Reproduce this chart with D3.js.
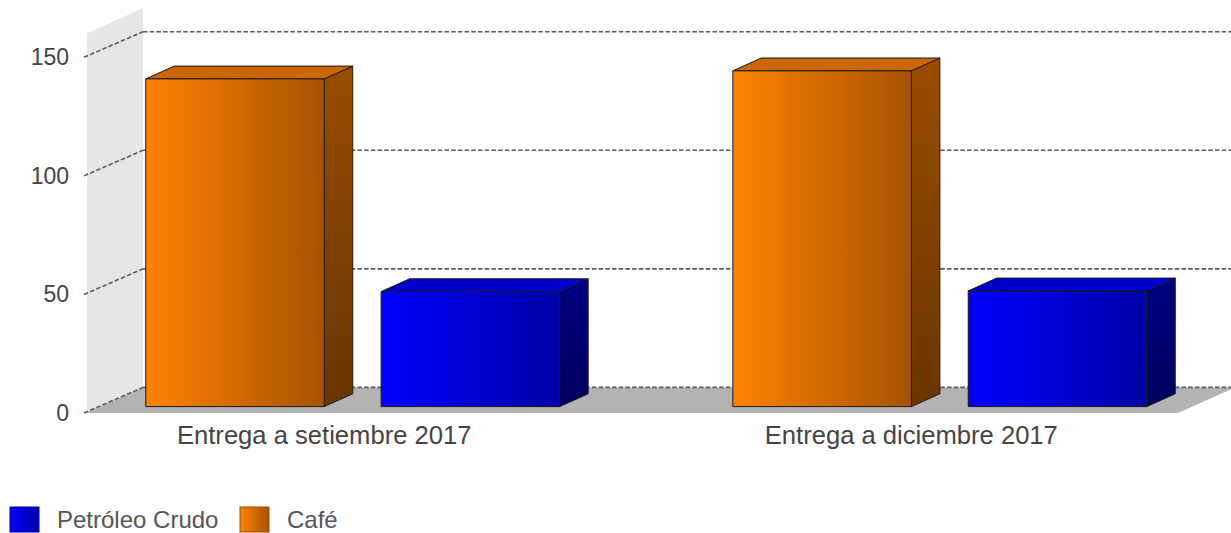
<!DOCTYPE html>
<html>
<head>
<meta charset="utf-8">
<script src="https://cdn.jsdelivr.net/npm/d3@7"></script>
<style>
  html, body { margin: 0; padding: 0; background: #fff; }
  svg { display: block; font-family: "Liberation Sans", Arial, sans-serif; }
</style>
</head>
<body>
<svg id="chart" width="1231" height="533"></svg>
<script>
// Data
const categories = ["Entrega a setiembre 2017", "Entrega a diciembre 2017"];
const seriesNames = ["Café", "Petróleo Crudo"];
const cafeValues = [138.2, 141.6];
const petroleoValues = [48.5, 48.8];
const yTicks = [0, 50, 100, 150];
const legendOrder = ["Petróleo Crudo", "Café"];

const seriesValues = { "Café": cafeValues, "Petróleo Crudo": petroleoValues };

// Layout
const W = 1231, H = 533;
const plotLeft = 86, plotRight = 1178, plotBottom = 413, plotTop = 33.6;
const depthX = 57, depthY = -25.6;          // depth of the 3D canvas
const barZ0 = 0.25, barZ1 = 0.75;           // bars sit in the middle of the depth

const palette = {
  "Café": { front: ["#ff8200", "#a65300"], top: "#cc6600", side: ["#9a4d00", "#6a3500"], border: "#9c4e00" },
  "Petróleo Crudo": { front: ["#0000ff", "#0000a6"], top: "#0000cc", side: ["#000082", "#00005e"], border: "#0000a0" }
};

const svg = d3.select("#chart");
const defs = svg.append("defs");

Object.entries(palette).forEach(([name, c], i) => {
  const gf = defs.append("linearGradient").attr("id", "front" + i).attr("x1", 0).attr("x2", 1).attr("y1", 0).attr("y2", 0);
  gf.append("stop").attr("offset", "0%").attr("stop-color", c.front[0]);
  gf.append("stop").attr("offset", "100%").attr("stop-color", c.front[1]);
  const gs = defs.append("linearGradient").attr("id", "side" + i).attr("x1", 0).attr("x2", 0).attr("y1", 0).attr("y2", 1);
  gs.append("stop").attr("offset", "0%").attr("stop-color", c.side[0]);
  gs.append("stop").attr("offset", "100%").attr("stop-color", c.side[1]);
  c.frontId = "url(#front" + i + ")";
  c.sideId = "url(#side" + i + ")";
});

// Scales
const y = d3.scaleLinear().domain([0, 160]).range([plotBottom, plotTop]);
const x0 = d3.scaleBand().domain(categories).range([plotLeft, plotRight]).paddingInner(0.295).paddingOuter(0.0775);
const x1 = d3.scaleBand().domain(seriesNames).range([0, x0.bandwidth()]).paddingInner(0.2415).paddingOuter(0);

const pt = (px, py) => px + "," + py;

// Back wall
const yMax = y.domain()[1];
svg.append("polygon")
  .attr("points", [
    pt(plotLeft + 1, y(0)), pt(plotLeft + 1, y(yMax)),
    pt(plotLeft + depthX, y(yMax) + depthY), pt(plotLeft + depthX, y(0) + depthY)
  ].join(" "))
  .attr("fill", "#e6e6e6");

// Floor
svg.append("polygon")
  .attr("points", [
    pt(plotLeft, y(0)), pt(plotRight, y(0)),
    pt(plotRight + depthX, y(0) + depthY), pt(plotLeft + depthX, y(0) + depthY)
  ].join(" "))
  .attr("fill", "#b3b3b3");

// Grid lines: across the wall, then along the back plane
const grid = svg.append("g")
  .attr("fill", "none").attr("stroke", "#5c5c5c").attr("stroke-width", 1.6).attr("stroke-dasharray", "4.5,2.2");
yTicks.forEach(t => {
  grid.append("path").attr("d", "M" + (plotLeft - 2) + "," + y(t) + "L" + (plotLeft + depthX) + "," + (y(t) + depthY));
  grid.append("path").attr("d", "M" + (plotLeft + depthX) + "," + (y(t) + depthY) + "H" + W);
});

// Y axis labels
const yAxis = d3.axisLeft(y).tickValues(yTicks).tickSize(0).tickPadding(17);
const ax = svg.append("g").attr("transform", "translate(" + plotLeft + ",0)").call(yAxis);
ax.select(".domain").remove();
ax.selectAll("text").attr("font-size", 23).attr("fill", "#444").attr("font-family", "Liberation Sans, Arial, sans-serif");

// Bars
const fdx = depthX * barZ0, fdy = depthY * barZ0;
const bdx = depthX * (barZ1 - barZ0), bdy = depthY * (barZ1 - barZ0);
const bars = [];
categories.forEach((cat, ci) => {
  seriesNames.forEach(s => bars.push({ cat, s, v: seriesValues[s][ci] }));
});

const barG = svg.append("g").attr("stroke", "#1a1a1a").attr("stroke-width", 1).attr("stroke-linejoin", "round");
bars.forEach(b => {
  const c = palette[b.s];
  const xl = x0(b.cat) + x1(b.s) + fdx;
  const xr = xl + x1.bandwidth();
  const yb = y(0) + fdy;
  const yt = y(b.v) + fdy;
  const g = barG.append("g");
  // side
  g.append("polygon").attr("points", [pt(xr, yt), pt(xr + bdx, yt + bdy), pt(xr + bdx, yb + bdy), pt(xr, yb)].join(" "))
    .attr("fill", c.sideId);
  // top
  g.append("polygon").attr("points", [pt(xl, yt), pt(xl + bdx, yt + bdy), pt(xr + bdx, yt + bdy), pt(xr, yt)].join(" "))
    .attr("fill", c.top);
  // front
  g.append("rect").attr("x", xl).attr("y", yt).attr("width", xr - xl).attr("height", yb - yt)
    .attr("fill", c.frontId);
});

// Category labels
svg.append("g").selectAll("text").data(categories).join("text")
  .attr("x", d => x0(d) + x0.bandwidth() / 2 - fdx)
  .attr("y", 444)
  .attr("text-anchor", "middle")
  .attr("font-size", 25.6)
  .attr("fill", "#444")
  .text(d => d);

// Legend
const legendX = [10, 240];
const lg = svg.append("g");
legendOrder.forEach((name, i) => {
  const c = palette[name];
  lg.append("rect").attr("x", legendX[i]).attr("y", 507).attr("width", 29).attr("height", 25)
    .attr("fill", c.frontId).attr("stroke", c.border).attr("stroke-width", 1);
  lg.append("text").attr("x", legendX[i] + 47).attr("y", 528)
    .attr("font-size", 24).attr("fill", "#555").text(name);
});
</script>
</body>
</html>
